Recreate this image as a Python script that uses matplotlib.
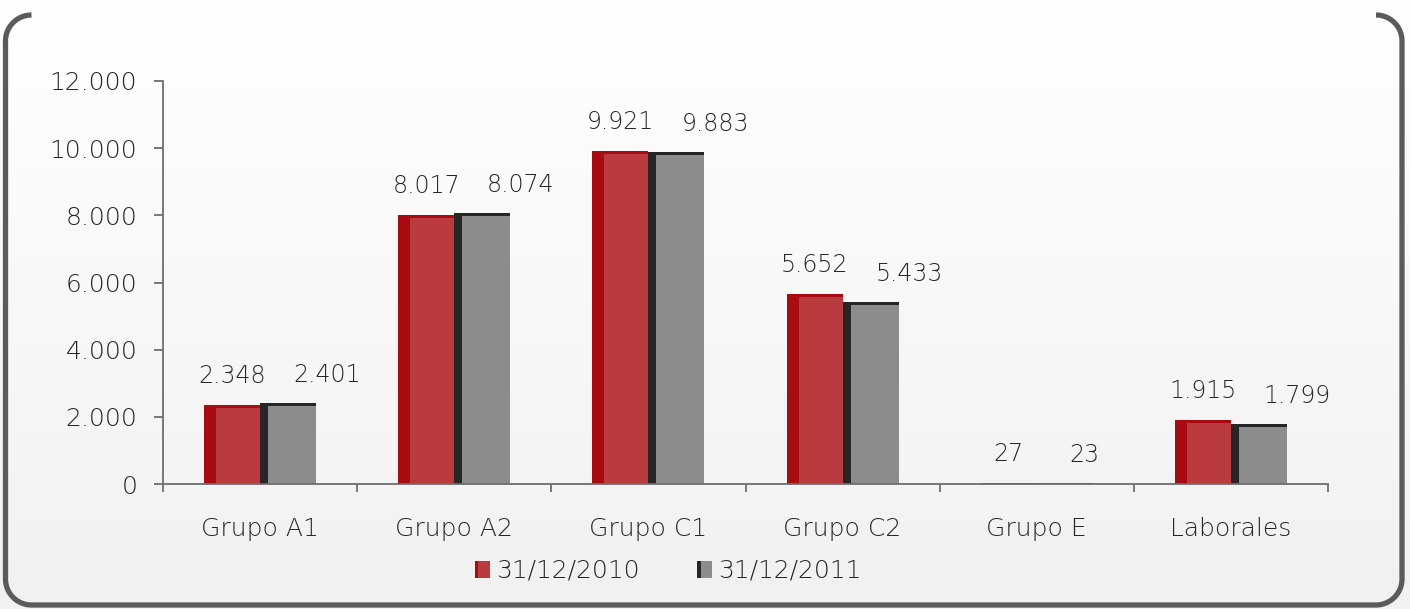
import numpy as np
import matplotlib.pyplot as plt
from matplotlib.patches import Rectangle
from matplotlib.legend_handler import HandlerBase
from matplotlib.colors import LinearSegmentedColormap
from matplotlib.ticker import FuncFormatter, FixedLocator

categories = ['Grupo A1', 'Grupo A2', 'Grupo C1', 'Grupo C2', 'Grupo E', 'Laborales']
vals_2010 = [2348, 8017, 9921, 5652, 27, 1915]
vals_2011 = [2401, 8074, 9883, 5433, 23, 1799]
series_names = ['31/12/2010', '31/12/2011']

plt.rcParams['font.family'] = ['DejaVu Sans']
plt.rcParams['font.weight'] = 'light'
txt_col = '#262626'
axis_col = '#6e6e6e'
W, H = 1410, 609


def fmt(v, pos=None):
    return '{:,.0f}'.format(v).replace(',', '.')


fig = plt.figure(figsize=(W / 100, H / 100), dpi=100)

# background + rounded frame (open at the top), in pixel coords
bg = fig.add_axes([0, 0, 1, 1], zorder=-1)
bg.set_xlim(0, W)
bg.set_ylim(H, 0)
bg.axis('off')
grad = LinearSegmentedColormap.from_list('g', ['#ffffff', '#f1f1f1'])
bg.imshow(np.linspace(0, 1, 200).reshape(-1, 1), cmap=grad, aspect='auto',
          extent=(0, W, H, 0))

r = 26
xl, xr, yt, yb = 5.5, 1402, 15, 605
t = np.linspace(0, np.pi / 2, 30)
# top-left arc, left side, bottom-left arc, bottom, bottom-right arc, right side, top-right arc
px = np.concatenate([
    xl + r - r * np.sin(t), xl + r - r * np.cos(t),
    xr - r + r * np.sin(t), xr - r + r * np.cos(t)])
py = np.concatenate([
    yt + r - r * np.cos(t), yb - r + r * np.sin(t),
    yb - r + r * np.cos(t), yt + r - r * np.sin(t)])
bg.plot(px, py, color='#5b5b5b', lw=3.8, solid_capstyle='butt',
        solid_joinstyle='round')

# chart
ax = fig.add_axes([163 / W, 1 - 484 / H, (1328 - 163) / W, (484 - 81) / H])
ax.patch.set_alpha(0)

x = np.arange(len(categories))
bw = 0.288
styles = [
    dict(dark='#a90c10', face='#b93b3d', left=12 / 194.2),
    dict(dark='#262626', face='#8c8c8c', left=8 / 194.2),
]
top = 90

for s, (vals, st) in enumerate(zip([vals_2010, vals_2011], styles)):
    xc = x + (s - 0.5) * bw
    ax.bar(xc, vals, width=bw, color=st['dark'], zorder=2)
    face_h = [max(v - top, 0) for v in vals]
    ax.bar(xc + st['left'] / 2, face_h, width=bw - st['left'],
           color=st['face'], zorder=3)
    for xi, v in zip(xc, vals):
        if s == 0:
            ax.annotate(fmt(v), (xi, v), xytext=(0, 29), textcoords='offset pixels',
                        ha='center', va='center', fontsize=17, color=txt_col)
        else:
            ax.annotate(fmt(v), (xi, v), xytext=(5, 28), textcoords='offset pixels',
                        ha='left', va='center', fontsize=17, color=txt_col)

ax.set_xlim(-0.5, len(categories) - 0.5)
ax.set_ylim(0, 12000)
ax.set_yticks(np.arange(0, 12001, 2000))
ax.yaxis.set_major_formatter(FuncFormatter(fmt))
ax.set_xticks(x)
ax.set_xticklabels(categories)
ax.xaxis.set_minor_locator(FixedLocator(np.arange(-0.5, len(categories), 1)))

for sp in ['top', 'right']:
    ax.spines[sp].set_visible(False)
for sp in ['left', 'bottom']:
    ax.spines[sp].set_color(axis_col)
    ax.spines[sp].set_linewidth(1.3)
    ax.spines[sp].set_zorder(4)

ax.tick_params(axis='y', length=6.5, width=1.3, color=axis_col, pad=12,
               labelsize=18, labelcolor=txt_col)
ax.tick_params(axis='x', which='major', length=0, pad=24,
               labelsize=18, labelcolor=txt_col)
ax.tick_params(axis='x', which='minor', length=5.5, width=1.3, color=axis_col)


class BevelHandler(HandlerBase):
    def __init__(self, dark, face, frac):
        super().__init__()
        self.dark, self.face, self.frac = dark, face, frac

    def create_artists(self, legend, orig_handle, xdescent, ydescent,
                       width, height, fontsize, trans):
        d = Rectangle((-xdescent, -ydescent), width, height,
                      facecolor=self.dark, edgecolor='none', transform=trans)
        f = Rectangle((-xdescent + width * self.frac, -ydescent),
                      width * (1 - self.frac), height,
                      facecolor=self.face, edgecolor='none', transform=trans)
        return [d, f]


handles = [Rectangle((0, 0), 1, 1), Rectangle((0, 0), 1, 1)]
hmap = {handles[0]: BevelHandler(styles[0]['dark'], styles[0]['face'], 0.25),
        handles[1]: BevelHandler(styles[1]['dark'], styles[1]['face'], 0.25)}
leg = fig.legend(handles, series_names, handler_map=hmap, loc='center',
                 bbox_to_anchor=(668 / W, 1 - 571 / H), ncol=2, frameon=False,
                 fontsize=18, handlelength=0.6, handleheight=0.65,
                 handletextpad=0.25, columnspacing=2.3)
for t in leg.get_texts():
    t.set_color(txt_col)

fig.savefig('out.png', dpi=100)
